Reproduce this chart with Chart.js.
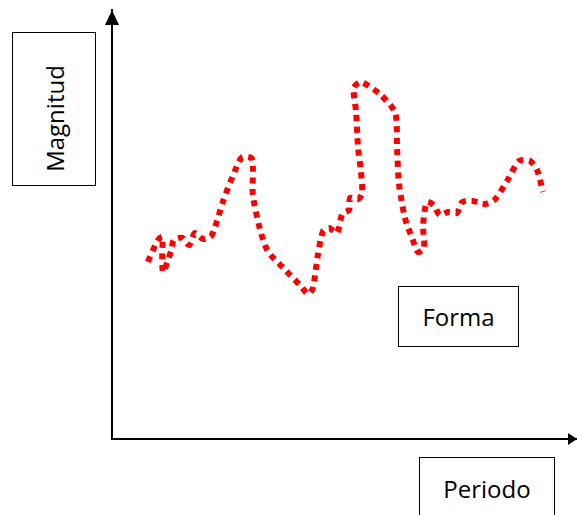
<!DOCTYPE html>
<html>
<head>
<meta charset="utf-8">
<script src="https://cdn.jsdelivr.net/npm/chart.js@4.4.1/dist/chart.umd.min.js"></script>
<style>
  body { margin: 0; background: #fff; }
  #wrap { position: relative; width: 577px; height: 515px; overflow: hidden; }
  .box {
    position: absolute; border: 1.5px solid #000; background: #fff;
    font-family: "Open Sans", sans-serif; font-size: 24px; color: #000;
    display: flex; align-items: center; justify-content: center; box-sizing: border-box;
  }
  .vert span { display: inline-block; transform: rotate(-90deg); white-space: nowrap; }
</style>
</head>
<body>
<div id="wrap">
  <canvas id="myChart" width="577" height="515"></canvas>
  <div class="box vert" style="left:12px; top:32px; width:84px; height:154px; padding-top:18px;"><span>Magnitud</span></div>
  <div class="box" style="left:398px; top:286px; width:121px; height:61px;">Forma</div>
  <div class="box" style="left:419px; top:457px; width:136px; height:70px; padding-bottom:8px;">Periodo</div>
</div>
<script>
// periodo (x) y magnitud (y), unidades arbitrarias 0-100
var periodo = [7.7, 9.9, 10.8, 10.8, 11.0, 12.7, 13.3, 15.1, 16.6, 17.8, 19.6, 21.5, 23.9, 26.7, 28.0, 30.1,
  30.3, 31.8, 33.5, 36.8, 40.4, 42.2, 43.2, 44.3, 45.4, 46.7, 48.4, 49.5, 51.0, 51.2, 52.9, 53.8,
  53.5, 52.9, 52.5, 52.0, 53.5, 57.6, 60.9, 61.3, 61.7, 63.0, 64.7, 65.8, 67.1, 66.9, 67.7, 69.2,
  70.5, 72.3, 74.2, 75.3, 77.6, 80.2, 82.4, 85.2, 87.5, 89.9, 91.4, 92.7];
var magnitud = [41.3, 46.4, 47.1, 42.0, 38.9, 43.8, 46.4, 46.9, 45.2, 48.0, 46.6, 47.6, 55.5, 63.2, 65.7, 65.3,
  56.9, 49.0, 43.8, 39.9, 35.9, 33.8, 35.2, 43.1, 48.5, 49.2, 48.0, 52.4, 53.4, 56.2, 55.9, 57.3,
  62.7, 68.1, 76.2, 81.8, 83.2, 80.4, 76.0, 67.8, 59.7, 51.5, 46.4, 43.6, 44.5, 49.9, 55.2, 54.5,
  52.2, 52.9, 52.7, 55.2, 55.5, 54.8, 55.9, 60.6, 64.8, 64.8, 62.7, 57.6];

var puntos = periodo.map(function (x, i) { return { x: x, y: magnitud[i] }; });

// flechas al final de los ejes
var flechas = {
  id: 'flechas',
  afterDraw: function (chart) {
    var c = chart.ctx, a = chart.chartArea;
    var x0 = chart.scales.x.getPixelForValue(0), y0 = chart.scales.y.getPixelForValue(0);
    c.save();
    c.fillStyle = '#000';
    c.beginPath();
    c.moveTo(x0, a.top); c.lineTo(x0 - 7, a.top + 15); c.lineTo(x0 + 7, a.top + 15);
    c.closePath(); c.fill();
    c.beginPath();
    c.moveTo(a.right, y0); c.lineTo(a.right - 9, y0 - 6); c.lineTo(a.right - 9, y0 + 6);
    c.closePath(); c.fill();
    c.restore();
  }
};

var ctx = document.getElementById('myChart').getContext('2d');
var chart = new Chart(ctx, {
  type: 'scatter',
  data: {
    datasets: [{
      data: puntos,
      showLine: true,
      borderColor: '#ff0000',
      borderWidth: 6,
      borderDash: [6, 5.5],
      borderCapStyle: 'butt',
      tension: 0.25,
      pointRadius: 0,
      fill: false
    }]
  },
  options: {
    responsive: false,
    animation: false,
    layout: { padding: { left: 104, top: 10, right: 0, bottom: 68 } },
    plugins: { legend: { display: false }, tooltip: { enabled: false } },
    scales: {
      x: {
        type: 'linear', min: 0, max: 100,
        ticks: { display: false },
        grid: { display: false },
        border: { display: true, color: '#000', width: 2 }
      },
      y: {
        type: 'linear', min: 0, max: 100,
        ticks: { display: false },
        grid: { display: false },
        border: { display: true, color: '#000', width: 2 }
      }
    }
  },
  plugins: [flechas]
});
</script>
</body>
</html>
